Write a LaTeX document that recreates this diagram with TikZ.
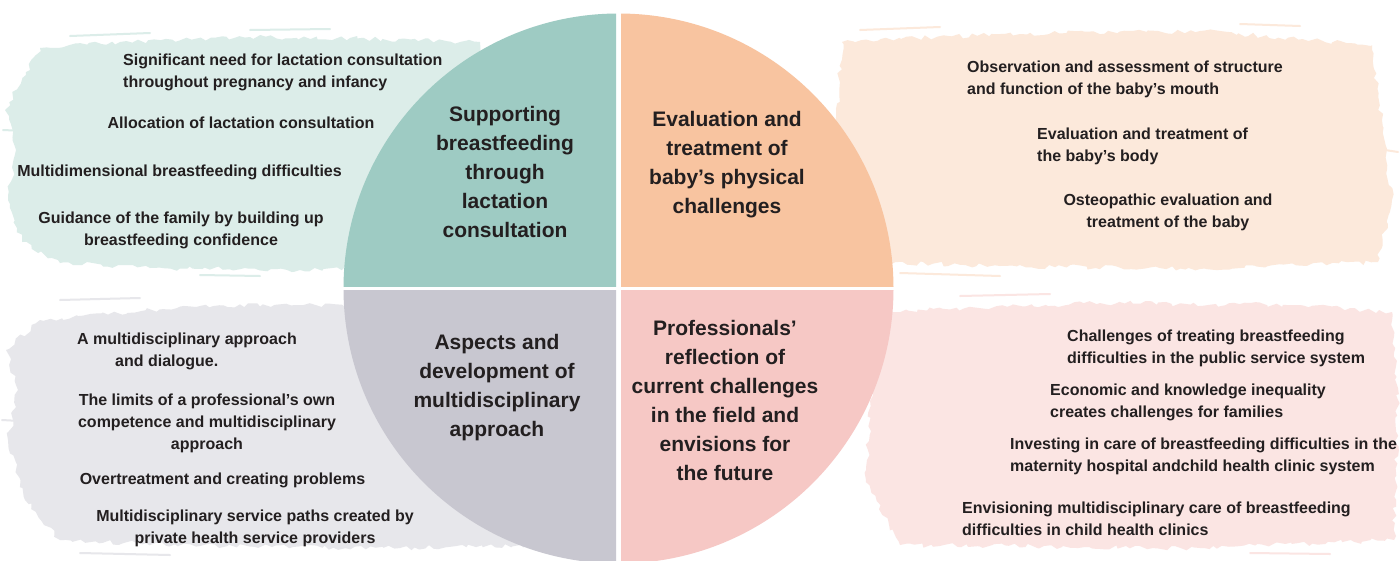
\documentclass[tikz,border=0pt]{standalone}
\usepackage{fontspec}
\setmainfont{Liberation Sans}
\usetikzlibrary{decorations.pathmorphing}
\definecolor{cteal}{HTML}{9ECBC3}
\definecolor{corange}{HTML}{F8C4A0}
\definecolor{cgrey}{HTML}{C8C7D0}
\definecolor{cpink}{HTML}{F6C8C5}
\definecolor{bteal}{HTML}{DCEDE9}
\definecolor{bpeach}{HTML}{FCE9DB}
\definecolor{bgrey}{HTML}{E7E7EB}
\definecolor{bpink}{HTML}{FBE5E3}
\definecolor{txt}{HTML}{231F20}
\begin{document}
\begin{tikzpicture}[x=1pt,y=-1pt,
  item/.style={font=\bfseries\fontsize{16}{22}\selectfont, text=txt, inner sep=0pt},
  ttl/.style={font=\bfseries\fontsize{21}{29}\selectfont, text=txt, align=center, inner sep=0pt, anchor=base},
  brush/.style={decorate, decoration={random steps, segment length=5pt, amplitude=2.5pt}},
  streak/.style={line width=2pt, line cap=round}]
\useasboundingbox (0,0) rectangle (1400,560);
\fill[white] (0,0) rectangle (1400,560);
\pgfmathsetseed{11}
% brush backgrounds
\fill[bteal, brush] (40,48) -- (120,42) -- (250,37) -- (350,38) -- (480,42) -- (480,266) -- (300,270) -- (150,268) -- (60,263) -- (22,242) -- (8,200) -- (16,150) -- (5,110) -- (26,72) -- cycle;
\draw[bteal, streak] (70,36) -- (150,33);
\draw[bteal, streak] (250,30) -- (330,29);
\draw[bteal, streak] (3,130) -- (25,131);
\draw[bteal, streak] (200,275) -- (260,276);
\fill[bpeach, brush] (842,42) -- (1000,34) -- (1200,31) -- (1372,45) -- (1382,120) -- (1392,200) -- (1378,262) -- (1200,269) -- (1000,266) -- (862,262) -- (846,200) -- (836,130) -- cycle;
\draw[bpeach, streak] (860,30) -- (940,27);
\draw[bpeach, streak] (1240,24) -- (1300,26);
\draw[bpeach, streak] (1385,150) -- (1398,152);
\draw[bpeach, streak] (900,273) -- (1000,276);
\fill[bgrey, brush] (40,320) -- (200,306) -- (400,305) -- (530,310) -- (530,545) -- (400,548) -- (200,546) -- (60,540) -- (25,500) -- (8,440) -- (18,390) -- (6,350) -- cycle;
\draw[bgrey, streak] (60,300) -- (140,298);
\draw[bgrey, streak] (2,420) -- (20,421);
\draw[bgrey, streak] (80,553) -- (170,555);
\fill[bpink, brush] (880,312) -- (1100,303) -- (1300,305) -- (1392,312) -- (1398,400) -- (1394,540) -- (1200,548) -- (900,545) -- (866,480) -- (872,380) -- cycle;
\draw[bpink, streak] (960,296) -- (1050,294);
\draw[bpink, streak] (1250,553) -- (1330,554);
% circle quadrants
\coordinate (c) at (618.5,288.5);
\begin{scope}\clip (0,0) rectangle (616,286.5);\fill[cteal] (c) circle (275pt);\end{scope}
\begin{scope}\clip (621,0) rectangle (1400,286.5);\fill[corange] (c) circle (275pt);\end{scope}
\begin{scope}\clip (0,290.5) rectangle (616,560);\fill[cgrey] (c) circle (275pt);\end{scope}
\begin{scope}\clip (621,290.5) rectangle (1400,560);\fill[cpink] (c) circle (275pt);\end{scope}
% titles (anchor base = baseline of last line)
\node[ttl] (tq1) at (505,237.5) {Supporting\\breastfeeding\\through\\lactation\\consultation};
\node[ttl] (tq2) at (727,213.5) {Evaluation and\\treatment of\\baby's physical\\challenges};
\node[ttl] (tq3) at (497,436.5) {Aspects and\\development of\\multidisciplinary\\approach};
\node[ttl] (tq4) at (725,480.5) {Professionals'\\reflection of\\current challenges\\in the field and\\envisions for\\the future};
% teal items
\node[item, align=left, anchor=base west] (a1) at (123,87) {Significant need for lactation consultation\\throughout pregnancy and infancy};
\node[item, anchor=base] (a2) at (241,128) {Allocation of lactation consultation};
\node[item, anchor=base] (a3) at (179.5,176) {Multidimensional breastfeeding difficulties};
\node[item, align=center, anchor=base] (a4) at (181,245) {Guidance of the family by building up\\breastfeeding confidence};
% orange items
\node[item, align=left, anchor=base west] (b1) at (967,94) {Observation and assessment of structure\\and function of the baby's mouth};
\node[item, align=left, anchor=base west] (b2) at (1037,161) {Evaluation and treatment of\\the baby's body};
\node[item, align=center, anchor=base] (b3) at (1168,227) {Osteopathic evaluation and\\treatment of the baby};
% grey items
\node[item, align=left, anchor=base west] (g1) at (77,366) {A multidisciplinary approach\\\hspace*{38pt}and dialogue.};
\node[item, align=center, anchor=base] (g2) at (207,449) {The limits of a professional's own\\competence and multidisciplinary\\approach};
\node[item, anchor=base] (g3) at (222.5,484) {Overtreatment and creating problems};
\node[item, align=center, anchor=base] (g4) at (255,543) {Multidisciplinary service paths created by\\private health service providers};
% pink items
\node[item, align=left, anchor=base west] (p1) at (1067,363) {Challenges of treating breastfeeding\\difficulties in the public service system};
\node[item, align=left, anchor=base west] (p2) at (1050,417) {Economic and knowledge inequality\\creates challenges for families};
\node[item, align=left, anchor=base west] (p3) at (1010,471) {Investing in care of breastfeeding difficulties in the\\maternity hospital andchild health clinic system};
\node[item, align=left, anchor=base west] (p4) at (962,535) {Envisioning multidisciplinary care of breastfeeding\\difficulties in child health clinics};
\end{tikzpicture}
\end{document}
